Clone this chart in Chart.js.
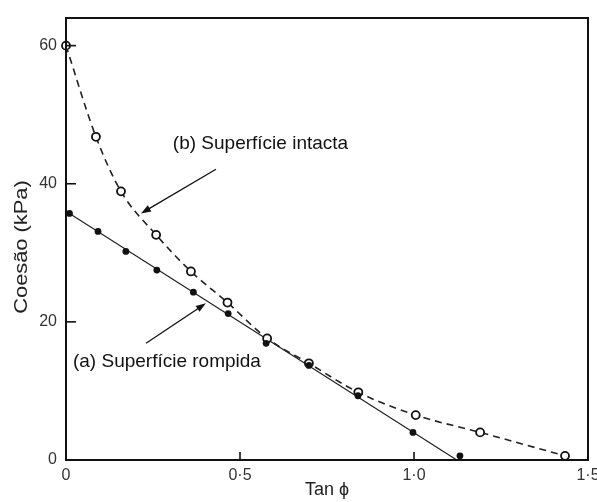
<!DOCTYPE html>
<html>
<head>
<meta charset="utf-8">
<script src="https://cdn.jsdelivr.net/npm/chart.js@4.4.1/dist/chart.umd.min.js"></script>
<style>
  html, body { margin: 0; padding: 0; background: #fff; }
  #wrap { width: 597px; height: 502px; position: relative; }
</style>
</head>
<body>
<div id="wrap"><canvas id="chart" width="597" height="502"></canvas></div>
<script>
// values (tan phi, cohesion in kPa)
const intactTan = [0, 0.086, 0.158, 0.259, 0.359, 0.464, 0.578, 0.698, 0.840, 1.005, 1.190, 1.434]
const intactCoh = [60, 46.8, 38.9, 32.6, 27.3, 22.8, 17.6, 14.0, 9.8, 6.5, 4.0, 0.6]
const brokenTan = [0.010, 0.092, 0.172, 0.261, 0.366, 0.466, 0.575, 0.698, 0.839, 0.997, 1.132]
const brokenCoh = [35.7, 33.1, 30.2, 27.5, 24.3, 21.2, 16.9, 13.7, 9.3, 4.0, 0.6]
const fitTan = [0.010, 1.123]
const fitCoh = [35.7, 0]

const xTicks = [0, 0.5, 1.0, 1.5]
const xTickLabels = ['0', '0·5', '1·0', '1·5']
const yTicks = [0, 20, 40, 60]
const yTickLabels = ['0', '20', '40', '60']

const labelB = '(b) Superfície intacta'
const labelA = '(a) Superfície rompida'
const yTitle = 'Coesão (kPa)'

function toPoints(xs, ys) {
    return xs.map((x, i) => ({ x: x, y: ys[i] }))
}

const FONT = '"Liberation Sans", Arial, sans-serif'

// frame, inward ticks, arrows, the two labels and the y title
const decorPlugin = {
    id: 'decor',
    afterDraw(chart) {
        const ctx = chart.ctx
        const a = chart.chartArea
        const xs = chart.scales.x
        const ys = chart.scales.y
        ctx.save()
        ctx.strokeStyle = '#111'
        ctx.lineWidth = 2
        ctx.strokeRect(a.left, a.top, a.right - a.left, a.bottom - a.top)

        ctx.lineWidth = 1.6
        xTicks.forEach(v => {
            if (v === xTicks[0] || v === xTicks[xTicks.length - 1]) return
            const px = xs.getPixelForValue(v)
            ctx.beginPath()
            ctx.moveTo(px, a.bottom)
            ctx.lineTo(px, a.bottom - 8)
            ctx.stroke()
        })
        yTicks.forEach(v => {
            if (v === yTicks[0]) return
            const py = ys.getPixelForValue(v)
            ctx.beginPath()
            ctx.moveTo(a.left, py)
            ctx.lineTo(a.left + 10, py)
            ctx.stroke()
        })

        function arrow(x1, y1, x2, y2) {
            const p1 = [xs.getPixelForValue(x1), ys.getPixelForValue(y1)]
            const p2 = [xs.getPixelForValue(x2), ys.getPixelForValue(y2)]
            const ang = Math.atan2(p2[1] - p1[1], p2[0] - p1[0])
            const len = 10, hw = 3.5
            ctx.lineWidth = 1.3
            ctx.beginPath()
            ctx.moveTo(p1[0], p1[1])
            ctx.lineTo(p2[0] - Math.cos(ang) * len * 0.8, p2[1] - Math.sin(ang) * len * 0.8)
            ctx.stroke()
            ctx.beginPath()
            ctx.moveTo(p2[0], p2[1])
            ctx.lineTo(p2[0] - Math.cos(ang) * len - Math.sin(ang) * hw, p2[1] - Math.sin(ang) * len + Math.cos(ang) * hw)
            ctx.lineTo(p2[0] - Math.cos(ang) * len + Math.sin(ang) * hw, p2[1] - Math.sin(ang) * len - Math.cos(ang) * hw)
            ctx.closePath()
            ctx.fillStyle = '#111'
            ctx.fill()
        }
        arrow(0.431, 42.1, 0.2155, 35.7)
        arrow(0.230, 16.9, 0.402, 22.7)

        ctx.fillStyle = '#111'
        ctx.font = '19px ' + FONT
        ctx.textBaseline = 'alphabetic'
        ctx.fillText(labelB, xs.getPixelForValue(0.307), ys.getPixelForValue(45.0))
        ctx.fillText(labelA, xs.getPixelForValue(0.020), ys.getPixelForValue(13.4))

        // y title, slightly stretched like the scanned original
        ctx.translate(22, 247)
        ctx.rotate(-Math.PI / 2)
        ctx.scale(1.15, 1)
        ctx.font = '19px ' + FONT
        ctx.textAlign = 'center'
        ctx.textBaseline = 'middle'
        ctx.fillStyle = '#222'
        ctx.fillText(yTitle, 0, 0)
        ctx.restore()
    }
}

const ctx = document.getElementById('chart').getContext('2d')
const myChart = new Chart(ctx, {
    type: 'scatter',
    data: {
        datasets: [
            {
                label: 'fit',
                data: toPoints(fitTan, fitCoh),
                showLine: true,
                borderColor: '#222',
                borderWidth: 1.2,
                pointRadius: 0,
                order: 3
            },
            {
                label: 'intacta',
                data: toPoints(intactTan, intactCoh),
                showLine: true,
                cubicInterpolationMode: 'monotone',
                borderColor: '#222',
                borderWidth: 1.6,
                borderDash: [7, 5],
                pointRadius: 4,
                pointBorderWidth: 1.8,
                pointBackgroundColor: '#fff',
                pointBorderColor: '#111',
                clip: false,
                order: 2
            },
            {
                label: 'rompida',
                data: toPoints(brokenTan, brokenCoh),
                pointRadius: 3.4,
                pointBackgroundColor: '#111',
                pointBorderColor: '#111',
                pointBorderWidth: 0,
                clip: false,
                order: 1
            }
        ]
    },
    options: {
        responsive: false,
        animation: false,
        events: [],
        layout: { padding: { top: 18, right: 9, left: 0, bottom: 0 } },
        plugins: {
            legend: { display: false },
            tooltip: { enabled: false }
        },
        scales: {
            x: {
                type: 'linear',
                min: 0,
                max: 1.5,
                grid: { display: false, drawTicks: false },
                border: { display: false },
                afterBuildTicks: (scale) => { scale.ticks = xTicks.map(v => ({ value: v })) },
                afterFit: (scale) => {
                    scale.height = 42
                    scale.paddingLeft = 0
                    scale.paddingRight = 0
                },
                ticks: {
                    padding: 6,
                    color: '#333',
                    font: { family: FONT, size: 16 },
                    maxRotation: 0,
                    callback: (value) => xTickLabels[xTicks.indexOf(value)]
                },
                title: {
                    display: true,
                    text: 'Tan ϕ',
                    color: '#222',
                    font: { family: FONT, size: 18 },
                    padding: { top: 0, bottom: 1 }
                }
            },
            y: {
                type: 'linear',
                min: 0,
                max: 64,
                grid: { display: false, drawTicks: false },
                border: { display: false },
                afterBuildTicks: (scale) => { scale.ticks = yTicks.map(v => ({ value: v })) },
                afterFit: (scale) => {
                    scale.width = 66
                    scale.paddingTop = 0
                    scale.paddingBottom = 0
                },
                ticks: {
                    padding: 9,
                    color: '#333',
                    font: { family: FONT, size: 16 },
                    callback: (value) => yTickLabels[yTicks.indexOf(value)]
                },
                title: { display: false }
            }
        }
    },
    plugins: [decorPlugin]
});
</script>
</body>
</html>
